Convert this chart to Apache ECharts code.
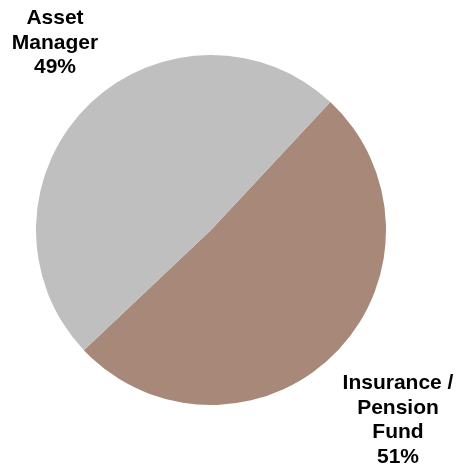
<!DOCTYPE html>
<html>
<head>
<meta charset="utf-8">
<script src="https://cdn.jsdelivr.net/npm/echarts@6/dist/echarts.min.js"></script>
<style>
  html, body { margin: 0; padding: 0; background: #fff; }
  #chart { width: 462px; height: 473px; }
</style>
</head>
<body>
<div id="chart"></div>
<script>
const categories = ["Insurance /\nPension\nFund", "Asset\nManager"];
const shares = [51, 49];
const sliceColors = ["#a88878", "#bfbfbf"];

// label anchor per slice (top-centre of the text block)
const labelSpots = [
  { x: 398, y: 371 },
  { x: 55, y: 6 }
];

const chart = echarts.init(document.getElementById("chart"));

chart.setOption({
  animation: false,
  series: [
    {
      type: "pie",
      center: [211, 230],
      radius: 175,
      startAngle: 47,
      clockwise: true,
      data: categories.map((name, i) => ({
        name,
        value: shares[i],
        itemStyle: { color: sliceColors[i] }
      })),
      label: {
        show: true,
        position: "outside",
        formatter: (p) => `${p.name}\n${p.value}%`,
        color: "#000",
        fontFamily: "Liberation Sans, Arial, sans-serif",
        fontWeight: "bold",
        fontSize: 21,
        lineHeight: 24.5,
        align: "center",
        overflow: "none"
      },
      labelLine: { show: false },
      labelLayout: (params) => ({
        x: labelSpots[params.dataIndex].x,
        y: labelSpots[params.dataIndex].y,
        align: "center",
        verticalAlign: "top"
      })
    }
  ]
});
</script>
</body>
</html>
